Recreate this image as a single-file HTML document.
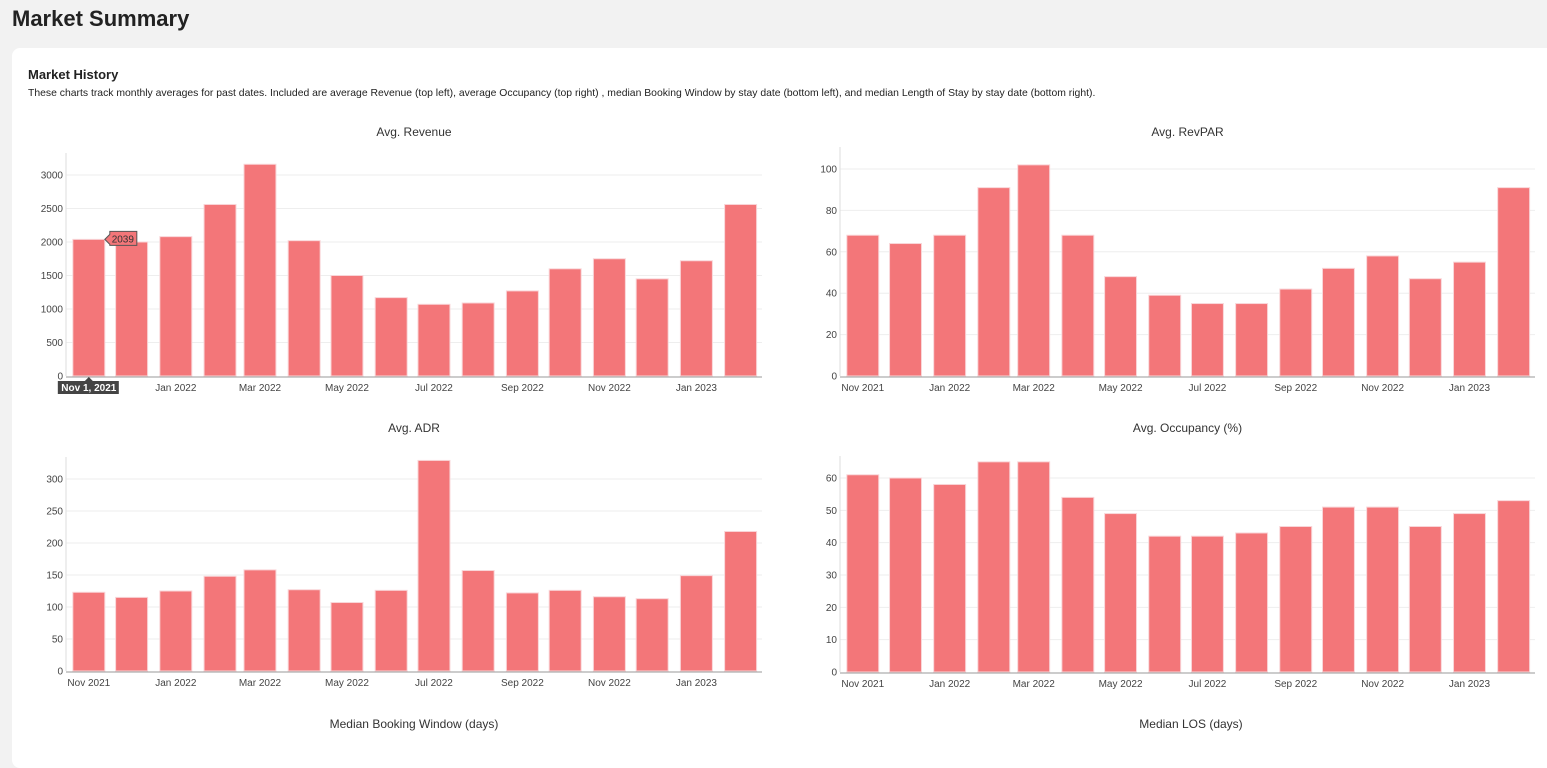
<!DOCTYPE html>
<html><head><meta charset="utf-8"><style>
body{margin:0;width:1547px;height:741px;overflow:hidden;background:#f2f2f2;font-family:"Liberation Sans",sans-serif;position:relative}
h1{position:absolute;left:12px;top:6px;margin:0;font-size:22px;font-weight:bold;color:#222}
.card{position:absolute;left:12px;top:48px;width:1545px;height:720px;background:#fff;border-radius:8px}
.t{position:absolute;left:28px;top:67px;font-size:13px;font-weight:bold;color:#222}
.d{position:absolute;left:28px;top:88px;font-size:10.4px;color:#222}
svg{position:absolute;left:0;top:0}
</style></head><body>
<h1>Market Summary</h1>
<div class="card"></div>
<div class="t">Market History</div>
<div class="d">These charts track monthly averages for past dates. Included are average Revenue (top left), average Occupancy (top right) , median Booking Window by stay date (bottom left), and median Length of Stay by stay date (bottom right).</div>
<svg id="s" width="1547" height="741"></svg>
<script>
const months = ["2021-11","2021-12","2022-01","2022-02","2022-03","2022-04","2022-05","2022-06","2022-07","2022-08","2022-09","2022-10","2022-11","2022-12","2023-01","2023-02"];
const revenue = [2039,2000,2080,2560,3160,2020,1500,1170,1070,1090,1270,1600,1750,1450,1720,2560];
const revpar = [68,64,68,91,102,68,48,39,35,35,42,52,58,47,55,91];
const adr = [123,115,125,148,158,127,107,126,329,157,122,126,116,113,149,218];
const occupancy = [61,60,58,65,65,54,49,42,42,43,45,51,51,45,49,53];
const xTickLabels = ["Nov 2021","Jan 2022","Mar 2022","May 2022","Jul 2022","Sep 2022","Nov 2022","Jan 2023"];
const xTickMonths = ["2021-11","2022-01","2022-03","2022-05","2022-07","2022-09","2022-11","2023-01"];
const revTicks = [0,500,1000,1500,2000,2500,3000];
const revparTicks = [0,20,40,60,80,100];
const adrTicks = [0,50,100,150,200,250,300];
const occTicks = [0,10,20,30,40,50,60];

const NS="http://www.w3.org/2000/svg", S=document.getElementById('s');
function mk(t,a,txt){const e=document.createElementNS(NS,t);for(const k in a)e.setAttribute(k,a[k]);if(txt!=null)e.textContent=txt;S.appendChild(e);return e;}
const day=m=>Date.UTC(+m.slice(0,4),+m.slice(5,7)-1,1)/864e5;
const d0=day(months[0])-16, d1=day(months[months.length-1])+15;
function chart(name,title,vals,ticks,px,pw,y0,ymax,ymaxPx,ty){
  const x=d=>px+(d-d0)/(d1-d0)*pw;
  const y=v=>y0-(v/ymax)*(y0-ymaxPx);
  let e=mk('text',{x:px+pw/2,y:ty,'text-anchor':'middle','font-size':12,fill:'#333'},title);
  
  
  ticks.forEach(t=>{
    if(t>0){e=mk('line',{x1:px,x2:px+pw,y1:y(t),y2:y(t),stroke:'#eee'});
    }
    e=mk('text',{x:px-3,y:y(t)+3.5,'text-anchor':'end','font-size':10,fill:'#444'},t);
    
  });
  vals.forEach((v,i)=>{
    const a=day(months[i]);
    const w=30.5/(d1-d0)*pw*0.735, cx=x(a);
    e=mk('rect',{x:cx-w/2,y:y(v),width:w,height:y0-y(v),fill:'#f37679',stroke:'#f9d5d8','stroke-width':1});
    
  });
  e=mk('line',{x1:px,x2:px,y1:ymaxPx-22,y2:y0,stroke:'#ddd'});
  
  e=mk('line',{x1:px,x2:px+pw,y1:y0+1,y2:y0+1,stroke:'#999'});
  
  xTickMonths.forEach((m,i)=>{
    e=mk('text',{x:x(day(m)),y:y0+15,'text-anchor':'middle','font-size':10,fill:'#444'},xTickLabels[i]);
    
  });
  return {x,y};
}
const c1=chart('revenue','Avg. Revenue',revenue,revTicks,66,696,376,3000,175,136);
chart('revpar','Avg. RevPAR',revpar,revparTicks,840,695,376,100,169,136);
chart('adr','Avg. ADR',adr,adrTicks,66,696,671,300,479,432);
chart('occupancy','Avg. Occupancy (%)',occupancy,occTicks,840,695,672,60,478,432);
let e=mk('text',{x:414,y:728,'text-anchor':'middle','font-size':12,fill:'#333'},'Median Booking Window (days)');

e=mk('text',{x:1191,y:728,'text-anchor':'middle','font-size':12,fill:'#333'},'Median LOS (days)');

const hx=c1.x(day(months[0])), hy=c1.y(revenue[0]);
e=mk('rect',{x:hx-31,y:381,width:61,height:13,fill:'#444'});

mk('path',{d:`M${hx-4} 381 L${hx} 377 L${hx+4} 381Z`,fill:'#444'});
e=mk('text',{x:hx,y:391,'text-anchor':'middle','font-size':10,fill:'#fff','font-weight':'bold'},'Nov 1, 2021');

e=mk('path',{d:`M${hx+16} ${hy} L${hx+21} ${hy-5} L${hx+21} ${hy-8} L${hx+48} ${hy-8} L${hx+48} ${hy+6} L${hx+21} ${hy+6} L${hx+21} ${hy+5}Z`,fill:'#f37679',stroke:'#555'});

e=mk('text',{x:hx+34,y:hy+3,'text-anchor':'middle','font-size':10,fill:'#333'},revenue[0]);

</script>
</body></html>
